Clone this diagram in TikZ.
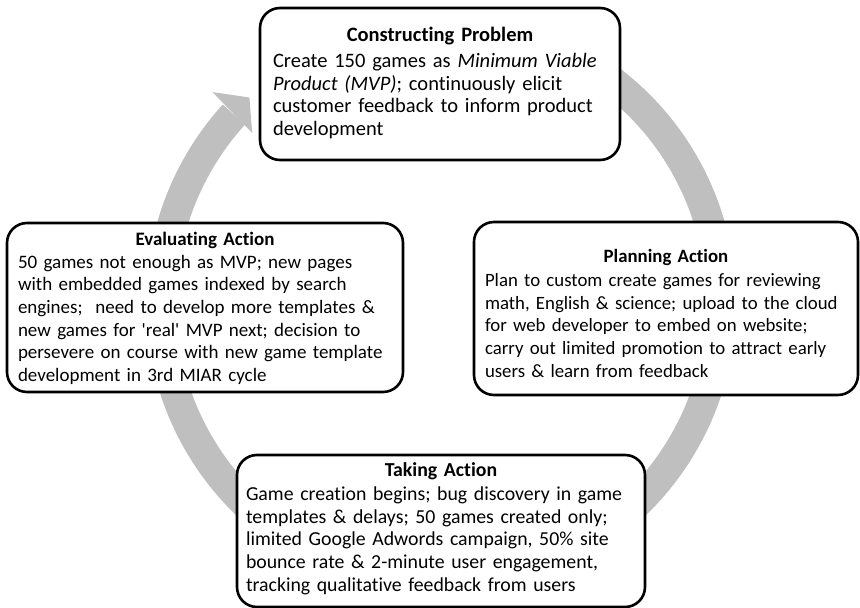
\documentclass[tikz,border=0pt]{standalone}
\usepackage{fontspec}
\setmainfont{Carlito}[Ligatures={TeX,NoCommon}]

\definecolor{ringgray}{RGB}{191,191,191}

\begin{document}
\begin{tikzpicture}[x=1pt, y=1pt,
		box/.style={draw, line width=2.6pt, rounded corners=20pt, fill=white, inner sep=0pt},
		txt/.style={inner sep=0pt, align=left, text width=#1},
		ring/.style={line width=30pt, draw=ringgray}]
	\useasboundingbox (0,0) rectangle (860,608);
	
	% grey cycle arrow, runs clockwise behind the boxes
	\begin{scope}[shift={(441,305)}]
		\draw[ring] (95:280) arc[start angle=95, end angle=-222.3, radius=280];
		\fill[ringgray] (137.3:311) -- (133:281) -- (138:254) -- cycle;
	\end{scope}
	
	% the four stages
	\node[box, minimum width=360pt, minimum height=152pt] (cons) at (440,524) {};
	\node[box, minimum width=384pt, minimum height=173pt] (plan) at (666,299.5) {};
	\node[box, minimum width=396pt, minimum height=169pt] (eval) at (205,300.5) {};
	\node[box, minimum width=408pt, minimum height=152pt] (take) at (441,77) {};
	
	% constructing
	\node[txt=334pt, anchor=base, font=\fontsize{20.5}{22.6}\selectfont] (cons-txt)
		at ([yshift=-35pt]cons.north) {%
		{\centering\bfseries Constructing Problem\par}\vspace{3.4pt}
		Create 150 games as \textit{Minimum Viable}\\
		\textit{Product (MVP)}; continuously elicit\\
		customer feedback to inform product\\
		development};
	
	% planning
	\node[txt=362pt, anchor=base, font=\fontsize{18.8}{22.6}\selectfont] (plan-txt)
		at ([yshift=-42pt]plan.north) {%
		{\centering\bfseries Planning Action\par}\vspace{1.4pt}
		Plan to custom create games for reviewing\\
		math, English \& science; upload to the cloud\\
		for web developer to embed on website;\\
		carry out limited promotion to attract early\\
		users \& learn from feedback};
	
	% taking
	\node[txt=390pt, anchor=base, font=\fontsize{19.8}{22.6}\selectfont] (take-txt)
		at ([yshift=-23pt]take.north) {%
		{\centering\bfseries Taking Action\par}\vspace{1.4pt}
		Game creation begins; bug discovery in game\\
		templates \& delays; 50 games created only;\\
		limited Google Adwords campaign, 50\% site\\
		bounce rate \& 2-minute user engagement,\\
		tracking qualitative feedback from users};
	
	% evaluating
	\node[txt=374pt, anchor=base, font=\fontsize{19}{22.6}\selectfont] (eval-txt)
		at ([yshift=-24pt]eval.north) {%
		{\centering\bfseries Evaluating Action\par}
		50 games not enough as MVP; new pages\\
		with embedded games indexed by search\\
		engines;~ need to develop more templates \&\\
		new games for \textquotesingle real\textquotesingle{} MVP next; decision to\\
		persevere on course with new game template\\
		development in 3rd MIAR cycle};
\end{tikzpicture}
\end{document}
